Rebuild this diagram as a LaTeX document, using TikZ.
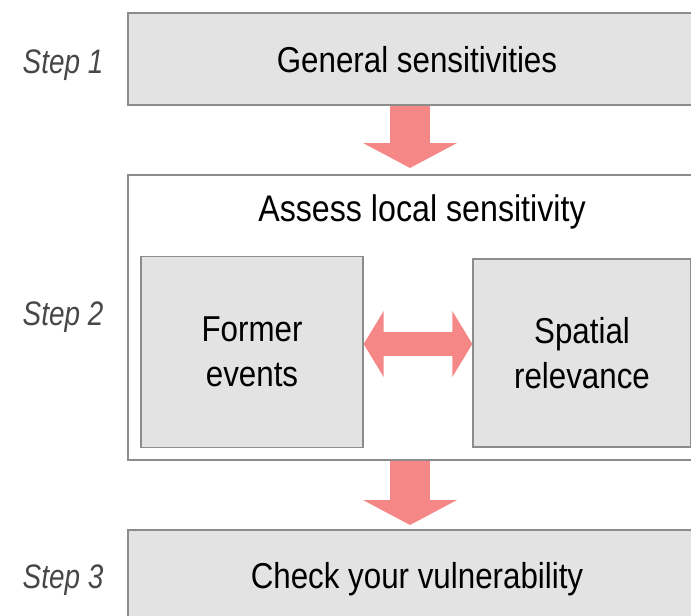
\documentclass[tikz,border=0pt]{standalone}
\usepackage{fontspec}
\setmainfont[FakeStretch=0.87]{Liberation Sans}
\newfontfamily\stepfont[FakeStretch=0.82]{Liberation Sans}
\usetikzlibrary{arrows.meta}
\definecolor{boxfill}{RGB}{227,227,227}
\definecolor{boxline}{RGB}{140,140,140}
\definecolor{arrowred}{RGB}{245,135,135}
\begin{document}
\begin{tikzpicture}[x=1pt,y=-1pt,
  graybox/.style={draw=boxline,line width=1.3pt,fill=boxfill,inner sep=0pt,
    font=\fontsize{36}{45}\selectfont,align=center},
  oneline/.style={text height=27pt,text depth=0pt},
  whitebox/.style={draw=boxline,line width=1.3pt,fill=white,inner sep=0pt},
  steplabel/.style={font=\stepfont\fontsize{34}{40}\selectfont\itshape,text=black!72,anchor=base,inner sep=0pt},
  fatarrow/.style={draw=arrowred,line width=40pt,line cap=butt,
    -{Triangle[length=25pt,width=93pt]}},
  dblarrow/.style={draw=arrowred,line width=24pt,line cap=butt,
    {Triangle[length=20pt,width=65pt]}-{Triangle[length=20pt,width=65pt]}}]
\useasboundingbox (0,0) rectangle (691,616);
\fill[white] (0,0) rectangle (691,616);
% boxes
\node[graybox,oneline,minimum width=578pt,minimum height=92pt] (b1) at (417,59) {General sensitivities};
\node[whitebox,minimum width=572pt,minimum height=285pt] (b2) at (414,317.5) {};
\node[font=\fontsize{37}{45}\selectfont,inner sep=0pt] (title) at (422,212) {Assess local sensitivity};
\node[graybox,minimum width=222pt,minimum height=191pt] (fe) at (252,352) {Former\\events};
\node[graybox,minimum width=218pt,minimum height=188pt] (sr) at (582,353) {Spatial\\relevance};
\node[graybox,oneline,minimum width=578pt,minimum height=90pt] (b3) at (417,575) {Check your vulnerability};
% step labels
\node[steplabel] (s1) at (63,73) {Step 1};
\node[steplabel] (s2) at (63,325) {Step 2};
\node[steplabel] (s3) at (63,588) {Step 3};
% arrows
\coordinate (a1s) at (410,59);
\coordinate (a1e) at (410,168);
\draw[fatarrow] (a1s |- b1.south) -- (a1e);
\coordinate (a2e) at (410,525);
\draw[fatarrow] (a1s |- b2.south) -- (a2e);
\draw[dblarrow] (fe.east |- 0,344) -- (sr.west |- 0,344);
\end{tikzpicture}
\end{document}
